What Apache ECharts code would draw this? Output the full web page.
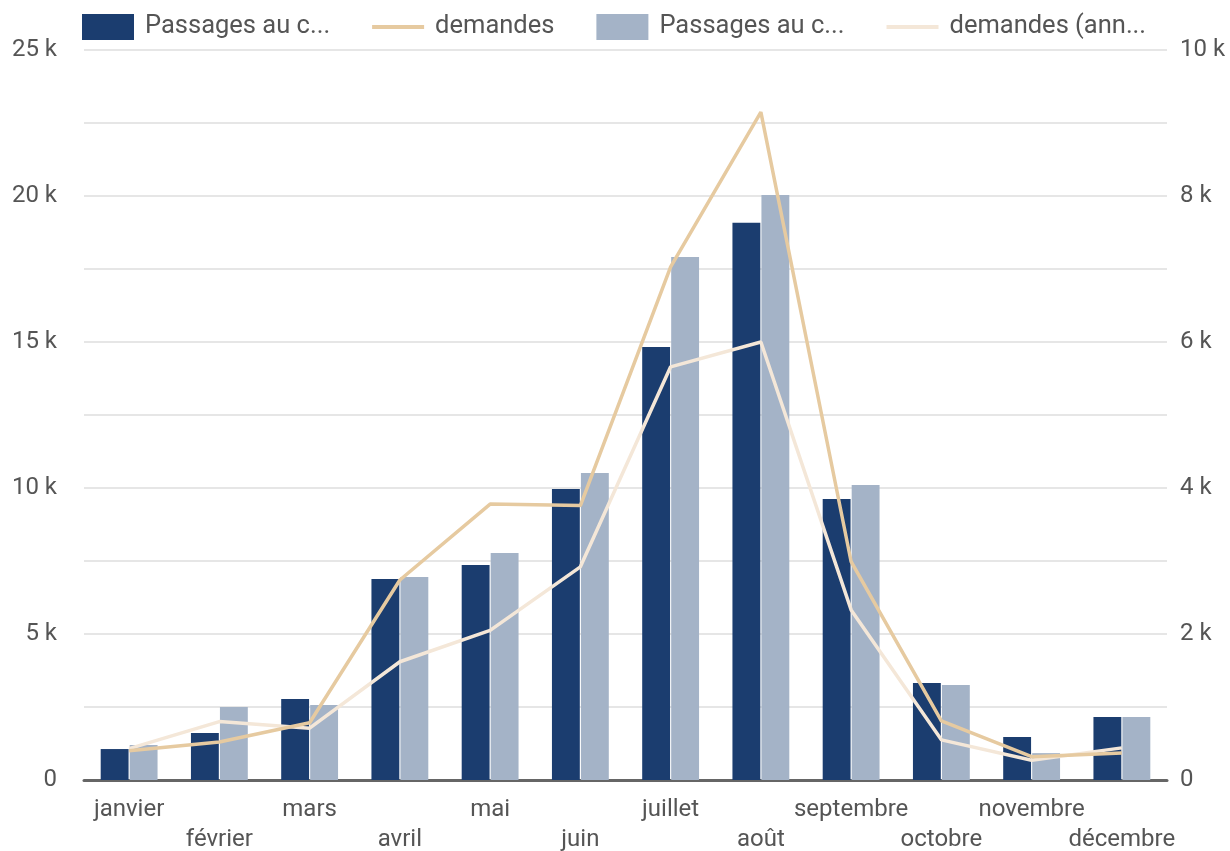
<!DOCTYPE html>
<html>
<head>
<meta charset="utf-8">
<script src="https://cdn.jsdelivr.net/npm/echarts@6/dist/echarts.min.js"></script>
<style>
  html, body { margin: 0; padding: 0; background: #fff; }
  #chart { width: 1230px; height: 851px; }
</style>
</head>
<body>
<div id="chart"></div>
<script>
var months = ['janvier', 'février', 'mars', 'avril', 'mai', 'juin', 'juillet', 'août', 'septembre', 'octobre', 'novembre', 'décembre']

// passages (left axis)
var passages = [1060, 1610, 2770, 6880, 7360, 9970, 14830, 19080, 9620, 3320, 1470, 2160]
var passagesPrev = [1200, 2500, 2570, 6950, 7770, 10510, 17910, 20030, 10100, 3250, 920, 2160]

// demandes (right axis)
var demandes = [400, 520, 785, 2740, 3780, 3760, 7030, 9150, 2990, 810, 320, 370]
var demandesPrev = [430, 800, 710, 1620, 2050, 2920, 5660, 6000, 2330, 550, 270, 440]

var names = ['Passages au camping', 'demandes', 'Passages au camping (année précédente)', 'demandes (année précédente)']

// legend icon for lines: thin bar, kept in a 52x26 box by tiny corner points
var lineIcon = 'path://M0,0 L0.01,0 L0,0.01 Z M0,11 L52,11 L52,15 L0,15 Z M51.99,26 L52,26 L52,25.99 Z'

function kFormat (v) {
  return v === 0 ? '0' : (v / 1000) + ' k'
}

var chart = echarts.init(document.getElementById('chart'))
var option = {
  animation: false,
  textStyle: { fontFamily: 'Roboto' },
  color: ['#1b3d6f', '#e6caa0', '#a4b3c7', '#f4e7d8'],
  legend: {
    top: 9,
    left: 77,
    itemWidth: 52,
    itemHeight: 26,
    itemGap: 42,
    textStyle: { fontSize: 25.5, color: '#555', padding: [3, 0, 0, 6] },
    formatter: function (name) {
      return name.length > 15 ? name.slice(0, 13) + '...' : name
    },
    data: [
      { name: names[0], icon: 'rect' },
      { name: names[1], icon: lineIcon },
      { name: names[2], icon: 'rect' },
      { name: names[3], icon: lineIcon }
    ]
  },
  grid: { left: 84, right: 63, top: 50, bottom: 71, outerBoundsMode: 'none' },
  xAxis: {
    type: 'category',
    data: months,
    axisTick: { show: false },
    axisLine: { lineStyle: { color: '#666', width: 3 } },
    axisLabel: {
      interval: 0,
      color: '#555',
      fontSize: 24,
      lineHeight: 30,
      margin: 15,
      formatter: function (v, i) {
        return i % 2 ? '\n' + v : v
      }
    }
  },
  yAxis: [{
    type: 'value',
    min: 0,
    max: 25000,
    interval: 2500,
    axisLine: { show: false },
    axisTick: { show: false },
    splitLine: { lineStyle: { color: '#e6e6e6', width: 2 } },
    axisLabel: {
      color: '#555',
      fontSize: 24,
      margin: 27,
      formatter: function (v) {
        return v % 5000 === 0 ? kFormat(v) : ''
      }
    }
  }, {
    type: 'value',
    min: 0,
    max: 10000,
    interval: 2000,
    axisLine: { show: false },
    axisTick: { show: false },
    splitLine: { show: false },
    axisLabel: { color: '#555', fontSize: 24, margin: 13, formatter: kFormat }
  }],
  series: [{
    name: names[0],
    type: 'bar',
    data: passages,
    barGap: '4%',
    barCategoryGap: '37%'
  }, {
    name: names[1],
    type: 'line',
    yAxisIndex: 1,
    data: demandes,
    symbol: 'none',
    z: 4,
    lineStyle: { width: 3.5 }
  }, {
    name: names[2],
    type: 'bar',
    data: passagesPrev,
    barGap: '4%',
    barCategoryGap: '37%'
  }, {
    name: names[3],
    type: 'line',
    yAxisIndex: 1,
    data: demandesPrev,
    symbol: 'none',
    z: 3,
    lineStyle: { width: 3.5 }
  }]
}
chart.setOption(option)
</script>
</body>
</html>
